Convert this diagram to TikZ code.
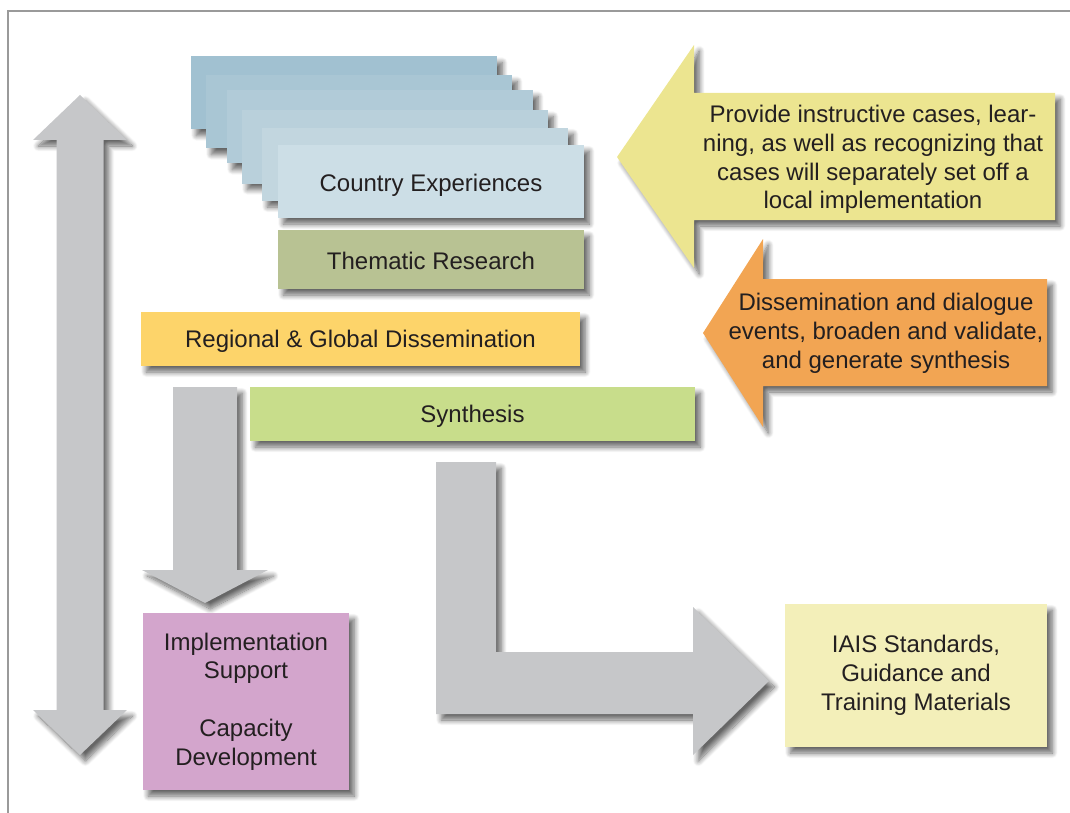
\documentclass[tikz,border=0pt]{standalone}
\usepackage{fontspec}
\setmainfont{Liberation Sans}
\usetikzlibrary{shadows.blur}

\definecolor{framegray}{HTML}{9A9A9A}
\definecolor{arrowgray}{HTML}{C6C7C9}
\definecolor{inkblack}{HTML}{231F20}
\definecolor{stackA}{HTML}{A1C1D1}
\definecolor{stackB}{HTML}{A9C6D4}
\definecolor{stackC}{HTML}{B1CBD8}
\definecolor{stackD}{HTML}{B9D0DB}
\definecolor{stackE}{HTML}{C2D6DF}
\definecolor{stackF}{HTML}{CCDEE6}
\definecolor{thematic}{HTML}{B8C293}
\definecolor{regional}{HTML}{FDD46A}
\definecolor{synth}{HTML}{C8DD8B}
\definecolor{implement}{HTML}{D3A5CC}
\definecolor{iais}{HTML}{F3EFB9}
\definecolor{casesyellow}{HTML}{ECE590}
\definecolor{dialogorange}{HTML}{F2A553}

\begin{document}
\begin{tikzpicture}[%
x=0.75pt, y=-0.75pt,
softshadow/.style={blur shadow={shadow xshift=4pt, shadow yshift=-4.5pt, shadow blur radius=4pt, shadow blur steps=10, shadow opacity=60}},
words/.style={inner sep=0pt, align=center, text=inkblack, font=\fontsize{18}{21.6}\selectfont},
box/.style={words, softshadow},
oneline/.style={box, text height=15pt, text depth=0pt},
stackbox/.style={oneline, minimum width=229.5pt, minimum height=54.75pt},
blockarrow/.style={softshadow}]%pixel grid, boxes and block arrows
\useasboundingbox (0,0) rectangle (1070,813);
\draw[framegray, line width=1.5pt] (7.5,813) -- (7.5,11.5) -- (1070,11.5); %frame

% long two-way arrow on the left
\fill[arrowgray, blockarrow] (80,95) -- (127,140) -- (103.5,140) -- (103.5,710) -- (127,710) -- (80,755) -- (33,710) -- (56.5,710) -- (56.5,140) -- (33,140) -- cycle;

% stack of country cards
\node[stackbox, fill=stackA] (card1) at (344,93) {};
\node[stackbox, fill=stackB] (card2) at (359,112) {};
\node[stackbox, fill=stackC] (card3) at (380,127) {};
\node[stackbox, fill=stackD] (card4) at (395,147) {};
\node[stackbox, fill=stackE] (card5) at (415,164.5) {};
\node[stackbox, fill=stackF] (country) at (431,181.5) {Country Experiences};
\node[oneline, fill=thematic, minimum width=229.5pt, minimum height=44.25pt] (thematic) at (431,259.5) {Thematic Research};

% arrow from the dissemination down to support
\fill[arrowgray, blockarrow] (173,387) -- (237,387) -- (237,570) -- (268,570) -- (205,603) -- (142,570) -- (173,570) -- cycle;
\node[oneline, text height=12pt, fill=regional, minimum width=329.25pt, minimum height=40.5pt] (regional) at (360.5,339) {Regional \& Global Dissemination};
\node[oneline, text height=12pt, fill=synth, minimum width=333.75pt, minimum height=40.5pt] (synthesis) at (472.5,414) {Synthesis};

% bent arrow from synthesis to the standards
\fill[arrowgray, blockarrow] (436,462) -- (496,462) -- (496,652) -- (693,652) -- (693,607) -- (769,681) -- (693,755) -- (693,714) -- (436,714) -- cycle;

\node[box, fill=implement, minimum width=154.5pt, minimum height=132.75pt] (support) at (246,701.5) {Implementation\\Support\\[21.6pt]Capacity\\Development};
\node[box, fill=iais, minimum width=196.5pt, minimum height=107.25pt] (standards) at (916,675.5) {IAIS Standards,\\Guidance and\\Training Materials};

% pointing arrows on the right
\fill[casesyellow, blockarrow] (617,157) -- (694,45) -- (694,93) -- (1055,93) -- (1055,220) -- (694,220) -- (694,268) -- cycle;
\node[words] (cases) at (873,159.5) {Provide instructive cases, lear-\\ning, as well as recognizing that\\cases will separately set off a\\local implementation};
\fill[dialogorange, blockarrow] (703,333) -- (763,239) -- (763,279) -- (1047,279) -- (1047,386) -- (763,386) -- (763,427) -- cycle;
\node[words] (dialogue) at (886,333.5) {Dissemination and dialogue\\events, broaden and validate,\\and generate synthesis};
\end{tikzpicture}
\end{document}
